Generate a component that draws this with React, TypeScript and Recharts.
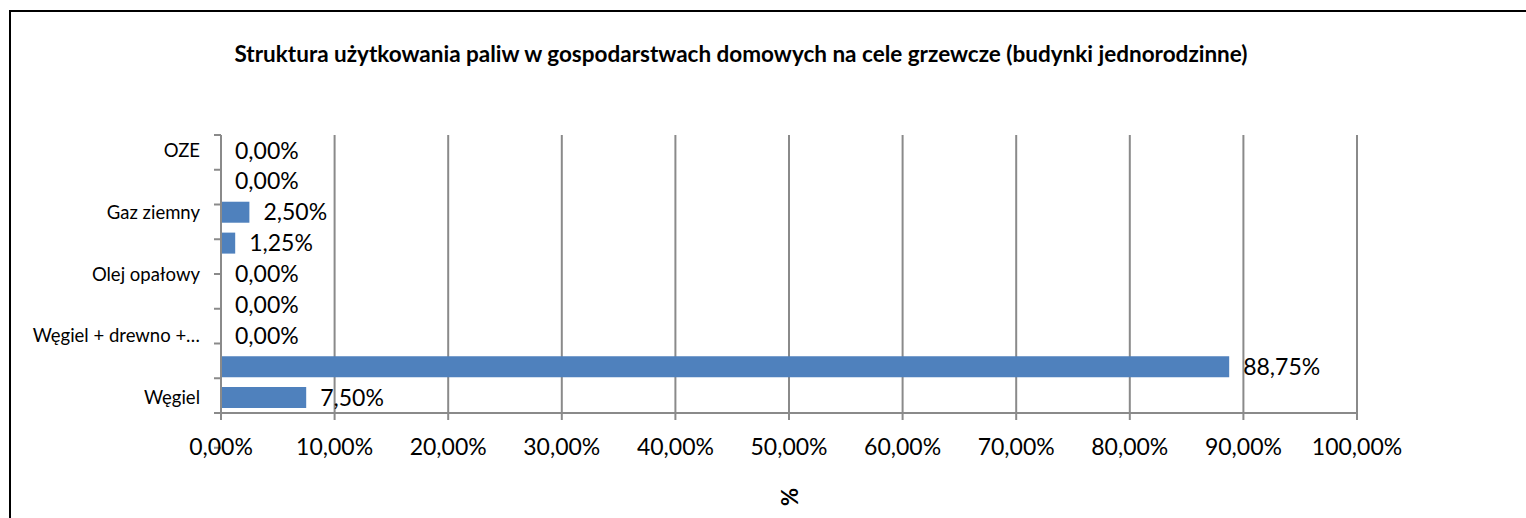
import React from "react";
import { BarChart, Bar, XAxis, YAxis, CartesianGrid, LabelList } from "recharts";

// categories top to bottom (every other one has its label hidden on the axis)
const categories = [
  "OZE",
  "Energia elektryczna",
  "Gaz ziemny",
  "Gaz płynny",
  "Olej opałowy",
  "Drewno",
  "Węgiel + drewno +…",
  "Węgiel + drewno",
  "Węgiel",
];
const shares = [0, 0, 2.5, 1.25, 0, 0, 0, 88.75, 7.5];
const xTicks = [0, 10, 20, 30, 40, 50, 60, 70, 80, 90, 100];
const boundaryTicks = [0, 1, 2, 3, 4, 5, 6, 7, 8, 9];

const data = categories.map((name, i) => ({ name, value: shares[i] }));

const FONT = "Lato, 'Open Sans', sans-serif";
const GRID = "#8a8a8a";
const BAR = "#4f81bd";

const pct = (v: number) => v.toFixed(2).replace(".", ",") + "%";

export default function App() {
  return (
    <div style={{ position: "relative", width: 1526, height: 518, overflow: "hidden", background: "#fff" }}>
      <style>{`body{margin:0}`}</style>
      <div
        style={{
          position: "absolute",
          left: 9,
          top: 10,
          width: 1560,
          height: 560,
          border: "2.5px solid #000",
        }}
      />
      <div
        style={{
          position: "absolute",
          left: 0,
          top: 40,
          width: 1482,
          textAlign: "center",
          fontFamily: FONT,
          fontWeight: 700,
          fontSize: 22.5,
          color: "#000",
        }}
      >
        Struktura użytkowania paliw w gospodarstwach domowych na cele grzewcze (budynki jednorodzinne)
      </div>
      <div style={{ position: "absolute", left: 0, top: 0 }}>
        <BarChart
          width={1526}
          height={518}
          data={data}
          layout="vertical"
          margin={{ top: 135, right: 169, left: 0, bottom: 0 }}
          barCategoryGap="16%"
        >
          <CartesianGrid vertical horizontal={false} stroke={GRID} strokeWidth={2} yAxisId={1} />
          <XAxis
            type="number"
            domain={[0, 100]}
            ticks={xTicks}
            tickFormatter={pct}
            height={105}
            interval={0}
            tickSize={7}
            tickMargin={19}
            axisLine={{ stroke: GRID, strokeWidth: 2 }}
            tickLine={{ stroke: GRID, strokeWidth: 2 }}
            tick={{ fill: "#000", fontSize: 23, fontFamily: FONT }}
            label={{
              content: (props: any) => {
                const vb = props.viewBox;
                const cx = vb.x + vb.width / 2;
                const cy = vb.y + 84;
                return (
                  <text
                    x={cx}
                    y={cy}
                    textAnchor="middle"
                    dominantBaseline="central"
                    transform={`rotate(90 ${cx} ${cy})`}
                    fontFamily={FONT}
                    fontWeight={700}
                    fontSize={22}
                    fill="#000"
                  >
                    %
                  </text>
                );
              },
            }}
          />
          {/* category boundary tick marks, sits right next to the plot */}
          <YAxis
            yAxisId={0}
            type="number"
            domain={[0, 9]}
            ticks={boundaryTicks}
            width={1}
            interval={0}
            tickSize={7}
            axisLine={{ stroke: GRID, strokeWidth: 2 }}
            tickLine={{ stroke: GRID, strokeWidth: 2 }}
            tickFormatter={() => ""}
          />
          <YAxis
            yAxisId={1}
            type="category"
            dataKey="name"
            width={220}
            interval={1}
            tickLine={false}
            tickSize={0}
            tickMargin={20}
            axisLine={false}
            tick={{ fill: "#000", fontSize: 18.5, fontFamily: FONT }}
          />
          <Bar yAxisId={1} dataKey="value" fill={BAR} isAnimationActive={false} minPointSize={0.01}>
            <LabelList
              dataKey="value"
              position="right"
              offset={14}
              formatter={(v: any) => pct(Number(v))}
              fill="#000"
              fontSize={23}
              fontFamily={FONT}
            />
          </Bar>
        </BarChart>
      </div>
    </div>
  );
}
